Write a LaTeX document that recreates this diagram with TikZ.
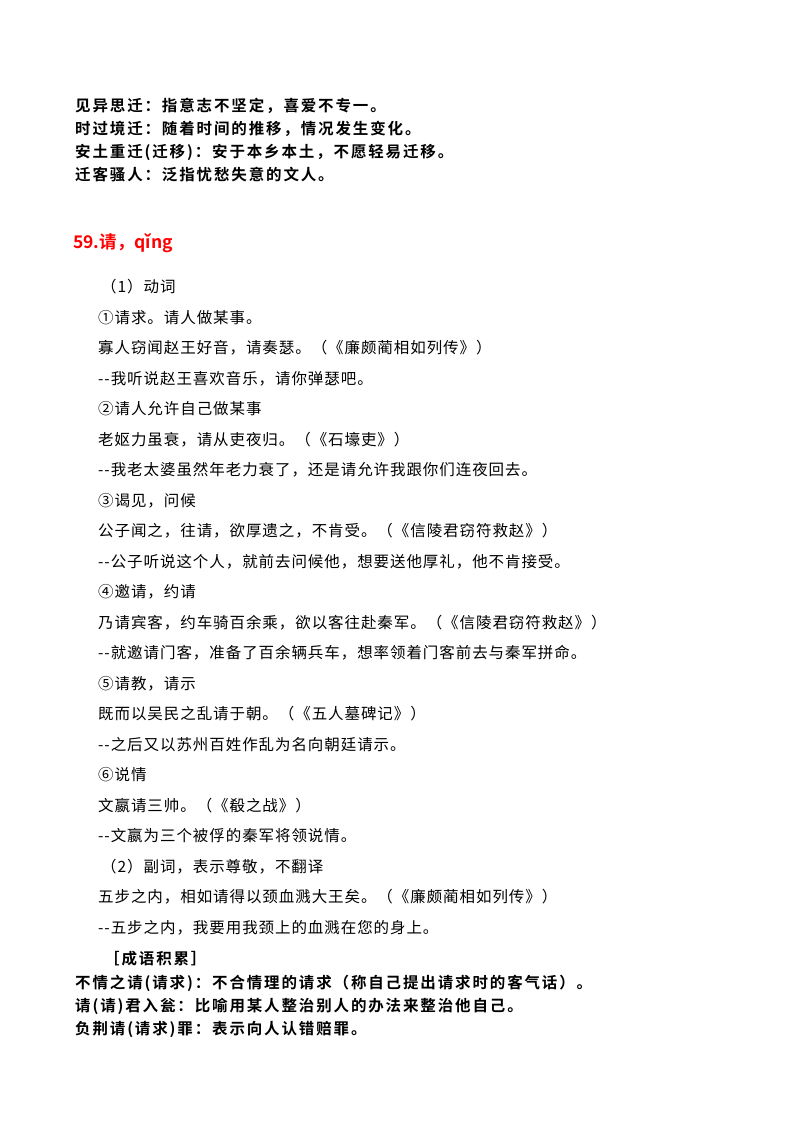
\documentclass[tikz,border=0pt]{standalone}
\usepackage{fontspec}
\setmainfont{Noto Sans CJK SC}
\newfontfamily\cjkb[LetterSpace=12]{Noto Sans CJK SC Bold}
\newfontfamily\cjkh{Noto Sans CJK SC Bold}
\newfontfamily\cjkr[LetterSpace=6]{Noto Sans CJK SC}
\begin{document}
\begin{tikzpicture}[x=1pt,y=-1pt,
 bl/.style={anchor=west,inner sep=0pt,font=\cjkb\fontsize{15.5}{16}\selectfont},
 tx/.style={anchor=west,inner sep=0pt,font=\cjkr\fontsize{15.5}{16}\selectfont}]
\useasboundingbox[fill=white] (0,0) rectangle (800,1132);
\node[bl] (a1) at (75,106) {见异思迁：指意志不坚定，喜爱不专一。};
\node[bl] (a2) at (75,129) {时过境迁：随着时间的推移，情况发生变化。};
\node[bl] (a3) at (75,152) {安土重迁(迁移)：安于本乡本土，不愿轻易迁移。};
\node[bl] (a4) at (75,175) {迁客骚人：泛指忧愁失意的文人。};
\node[anchor=west,inner sep=0pt,text=red,font=\cjkh\fontsize{17.5}{18}\selectfont] (h) at (73,243) {59.请，qǐng};
\foreach \t [count=\i] in {（1）动词,①请求。请人做某事。,寡人窃闻赵王好音，请奏瑟。（《廉颇蔺相如列传》）,{-}{-}我听说赵王喜欢音乐，请你弹瑟吧。,②请人允许自己做某事,老妪力虽衰，请从吏夜归。（《石壕吏》）,{-}{-}我老太婆虽然年老力衰了，还是请允许我跟你们连夜回去。,③谒见，问候,公子闻之，往请，欲厚遗之，不肯受。（《信陵君窃符救赵》）,{-}{-}公子听说这个人，就前去问候他，想要送他厚礼，他不肯接受。,④邀请，约请,乃请宾客，约车骑百余乘，欲以客往赴秦军。（《信陵君窃符救赵》）,{-}{-}就邀请门客，准备了百余辆兵车，想率领着门客前去与秦军拼命。,⑤请教，请示,既而以吴民之乱请于朝。（《五人墓碑记》）,{-}{-}之后又以苏州百姓作乱为名向朝廷请示。,⑥说情,文嬴请三帅。（《殽之战》）,{-}{-}文嬴为三个被俘的秦军将领说情。,（2）副词，表示尊敬，不翻译,五步之内，相如请得以颈血溅大王矣。（《廉颇蔺相如列传》）,{-}{-}五步之内，我要用我颈上的血溅在您的身上。}
  \node[tx] (b\i) at ({\i==1 || \i==20 ? 101 : 98},{287+(\i-1)*30.5}) {\t};
\node[bl] (c0) at (104,959) {［成语积累］};
\node[bl] (c1) at (75,983) {不情之请(请求)：不合情理的请求（称自己提出请求时的客气话）。};
\node[bl] (c2) at (75,1006) {请(请)君入瓮：比喻用某人整治别人的办法来整治他自己。};
\node[bl] (c3) at (75,1029) {负荆请(请求)罪：表示向人认错赔罪。};
\end{tikzpicture}
\end{document}
